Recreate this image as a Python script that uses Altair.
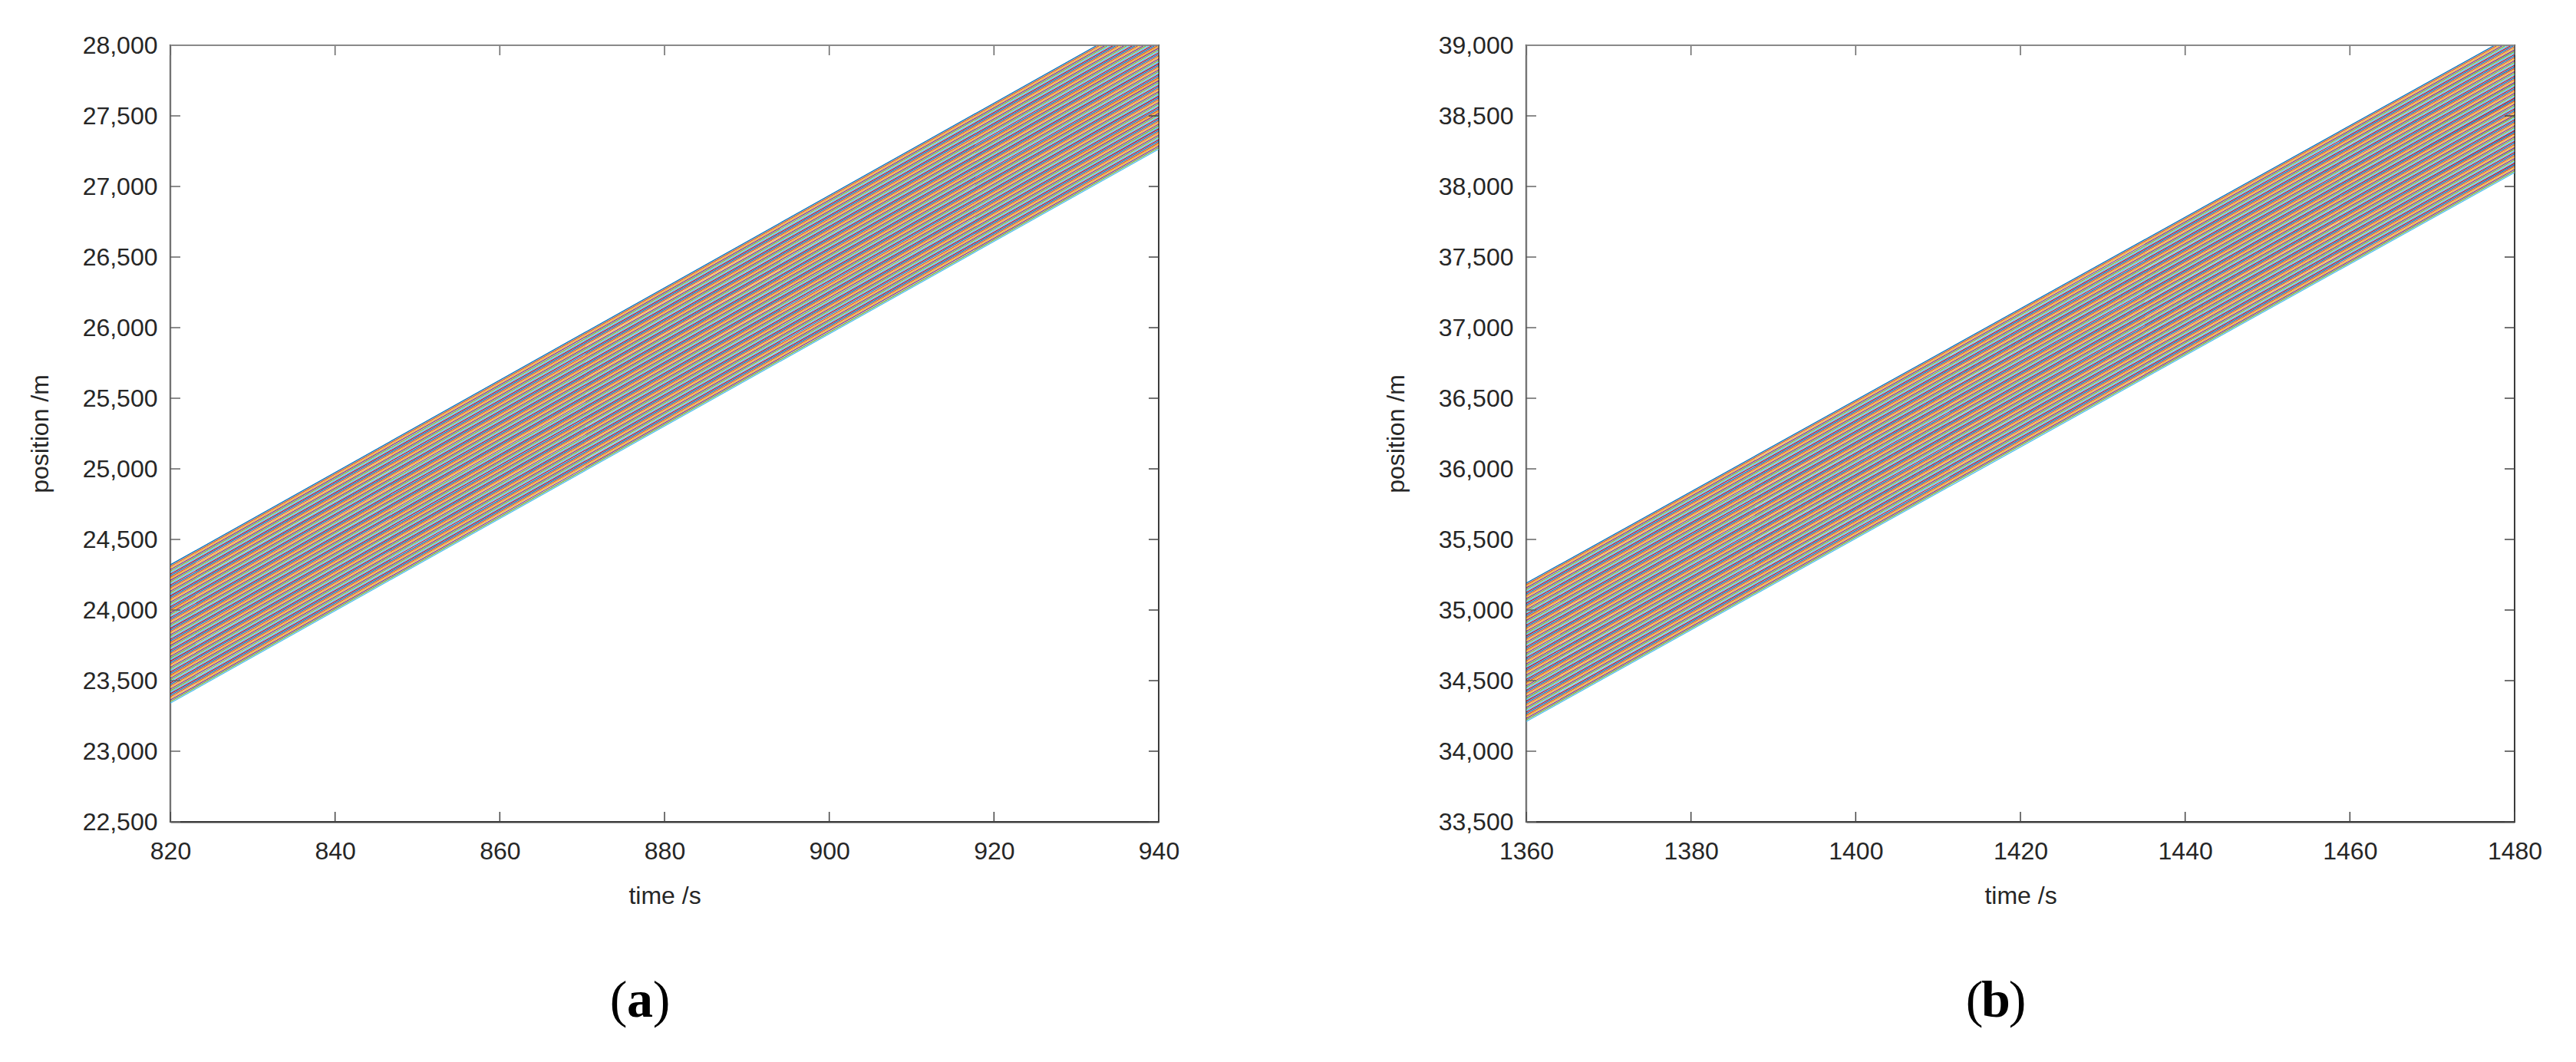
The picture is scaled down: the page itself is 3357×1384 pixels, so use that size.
import altair as alt
import pandas as pd

PALETTE = ["#0072BD", "#D95319", "#EDB120", "#7E2F8E", "#77AC30", "#4DBEEE", "#A2142F"]

# ---------------- panel (a) ----------------
a_time = [820, 940]
a_start = [24320, 24309, 24298, 24287, 24276, 24265, 24254, 24243, 24232, 24221,
           24210, 24199, 24188, 24177, 24166, 24155, 24144, 24133, 24122, 24111,
           24100, 24089, 24078, 24067, 24056, 24045, 24034, 24023, 24012, 24001,
           23990, 23979, 23968, 23957, 23946, 23935, 23924, 23913, 23902, 23891,
           23880, 23869, 23858, 23847, 23836, 23825, 23814, 23803, 23792, 23781,
           23770, 23759, 23748, 23737, 23726, 23715, 23704, 23693, 23682, 23671,
           23660, 23649, 23638, 23627, 23616, 23605, 23594, 23583, 23572, 23561,
           23550, 23539, 23528, 23517, 23506, 23495, 23484, 23473, 23462, 23451,
           23440, 23429, 23418, 23407, 23396, 23385, 23374, 23363, 23352, 23341]
a_end = [28244, 28233, 28222, 28211, 28200, 28189, 28178, 28167, 28156, 28145,
         28134, 28123, 28112, 28101, 28090, 28079, 28068, 28057, 28046, 28035,
         28024, 28013, 28002, 27991, 27980, 27969, 27958, 27947, 27936, 27925,
         27914, 27903, 27892, 27881, 27870, 27859, 27848, 27837, 27826, 27815,
         27804, 27793, 27782, 27771, 27760, 27749, 27738, 27727, 27716, 27705,
         27694, 27683, 27672, 27661, 27650, 27639, 27628, 27617, 27606, 27595,
         27584, 27573, 27562, 27551, 27540, 27529, 27518, 27507, 27496, 27485,
         27474, 27463, 27452, 27441, 27430, 27419, 27408, 27397, 27386, 27375,
         27364, 27353, 27342, 27331, 27320, 27309, 27298, 27287, 27276, 27265]
a_xticks = [820, 840, 860, 880, 900, 920, 940]
a_yticks = [22500, 23000, 23500, 24000, 24500, 25000, 25500, 26000, 26500, 27000, 27500, 28000]

# ---------------- panel (b) ----------------
b_time = [1360, 1480]
b_start = [35190, 35179, 35168, 35157, 35146, 35135, 35124, 35113, 35102, 35091,
           35080, 35069, 35058, 35047, 35036, 35025, 35014, 35003, 34992, 34981,
           34970, 34959, 34948, 34937, 34926, 34915, 34904, 34893, 34882, 34871,
           34860, 34849, 34838, 34827, 34816, 34805, 34794, 34783, 34772, 34761,
           34750, 34739, 34728, 34717, 34706, 34695, 34684, 34673, 34662, 34651,
           34640, 34629, 34618, 34607, 34596, 34585, 34574, 34563, 34552, 34541,
           34530, 34519, 34508, 34497, 34486, 34475, 34464, 34453, 34442, 34431,
           34420, 34409, 34398, 34387, 34376, 34365, 34354, 34343, 34332, 34321,
           34310, 34299, 34288, 34277, 34266, 34255, 34244, 34233, 34222, 34211]
b_end = [39078, 39067, 39056, 39045, 39034, 39023, 39012, 39001, 38990, 38979,
         38968, 38957, 38946, 38935, 38924, 38913, 38902, 38891, 38880, 38869,
         38858, 38847, 38836, 38825, 38814, 38803, 38792, 38781, 38770, 38759,
         38748, 38737, 38726, 38715, 38704, 38693, 38682, 38671, 38660, 38649,
         38638, 38627, 38616, 38605, 38594, 38583, 38572, 38561, 38550, 38539,
         38528, 38517, 38506, 38495, 38484, 38473, 38462, 38451, 38440, 38429,
         38418, 38407, 38396, 38385, 38374, 38363, 38352, 38341, 38330, 38319,
         38308, 38297, 38286, 38275, 38264, 38253, 38242, 38231, 38220, 38209,
         38198, 38187, 38176, 38165, 38154, 38143, 38132, 38121, 38110, 38099]
b_xticks = [1360, 1380, 1400, 1420, 1440, 1460, 1480]
b_yticks = [33500, 34000, 34500, 35000, 35500, 36000, 36500, 37000, 37500, 38000, 38500, 39000]

captions = ["a", "b"]
x_title = "time /s"
y_title = "position /m"

W, H = 1288, 1012
TICK = 13
CAP_X, CAP_Y = 612, 1246


def panel(time, start, end, xticks, yticks, cap):
    rows = []
    for i, (s, e) in enumerate(zip(start, end)):
        rows.append({"veh": i, "t": time[0], "pos": s, "c": str(i % 7)})
        rows.append({"veh": i, "t": time[1], "pos": e, "c": str(i % 7)})
    df = pd.DataFrame(rows)
    xs = alt.Scale(domain=[xticks[0], xticks[-1]], nice=False, zero=False)
    ys = alt.Scale(domain=[yticks[0], yticks[-1]], nice=False, zero=False)
    x_axis = alt.Axis(values=xticks, format="d", title=x_title, ticks=False, tickSize=0,
                      grid=False, labelPadding=23, titlePadding=27, domainColor="#3c3c3c",
                      domainWidth=2, labelFlush=False,
                      labelFont="Liberation Sans", labelFontSize=32, labelColor="#262626",
                      titleFont="Liberation Sans", titleFontSize=32, titleFontWeight="normal",
                      titleColor="#262626")
    y_axis = alt.Axis(values=yticks, format=",d", title=y_title, ticks=False, tickSize=0,
                      grid=False, labelPadding=17, titlePadding=38, domainColor="#8a8a8a",
                      domainWidth=1.5, labelFlush=False,
                      labelFont="Liberation Sans", labelFontSize=32, labelColor="#262626",
                      titleFont="Liberation Sans", titleFontSize=32, titleFontWeight="normal",
                      titleColor="#262626")

    lines = alt.Chart(df).mark_line(clip=True, strokeWidth=1.3).encode(
        x=alt.X("t:Q", scale=xs, axis=x_axis),
        y=alt.Y("pos:Q", scale=ys, axis=y_axis),
        color=alt.Color("c:N", scale=alt.Scale(domain=[str(k) for k in range(7)], range=PALETTE),
                        legend=None),
        detail="veh:N",
    )

    xt = pd.DataFrame({"t": xticks})
    yt = pd.DataFrame({"pos": yticks})
    bot = alt.Chart(xt).mark_rule(color="#444444", strokeWidth=1.5).encode(
        x=alt.X("t:Q", scale=xs, axis=x_axis), y=alt.value(H), y2=alt.value(H - TICK))
    top = alt.Chart(xt).mark_rule(color="#666666", strokeWidth=1.5).encode(
        x=alt.X("t:Q", scale=xs, axis=x_axis), y=alt.value(0), y2=alt.value(TICK))
    left = alt.Chart(yt).mark_rule(color="#666666", strokeWidth=1.5).encode(
        y=alt.Y("pos:Q", scale=ys, axis=y_axis), x=alt.value(0), x2=alt.value(TICK))
    right = alt.Chart(yt).mark_rule(color="#444444", strokeWidth=1.5).encode(
        y=alt.Y("pos:Q", scale=ys, axis=y_axis), x=alt.value(W), x2=alt.value(W - TICK))
    topline = alt.Chart(xt).mark_rule(color="#8a8a8a", strokeWidth=1.5).encode(
        x=alt.value(0), x2=alt.value(W), y=alt.value(0))

    def cap_text(s, dx, weight):
        return alt.Chart(pd.DataFrame({"s": [s]})).mark_text(
            font="Liberation Serif", fontSize=68, fontWeight=weight, color="#000000",
            align="center", baseline="middle").encode(
            text="s:N", x=alt.value(CAP_X + dx), y=alt.value(CAP_Y))

    caps = [cap_text("(", -28, "normal"), cap_text(cap, 0, "bold"), cap_text(")", 28, "normal")]

    return alt.layer(lines, bot, top, left, right, topline, *caps).properties(width=W, height=H)


pa = panel(a_time, a_start, a_end, a_xticks, a_yticks, captions[0])
pb = panel(b_time, b_start, b_end, b_xticks, b_yticks, captions[1])

chart = alt.hconcat(pa, pb, spacing=479, bounds="flush").properties(
    padding={"left": 27, "top": 34, "right": 10, "bottom": 10},
    background="white",
).configure_view(
    stroke="#3c3c3c", strokeWidth=2
).configure_axis(
    grid=False
)

chart.save("out.html", embed_options={"renderer": "svg", "actions": False})
